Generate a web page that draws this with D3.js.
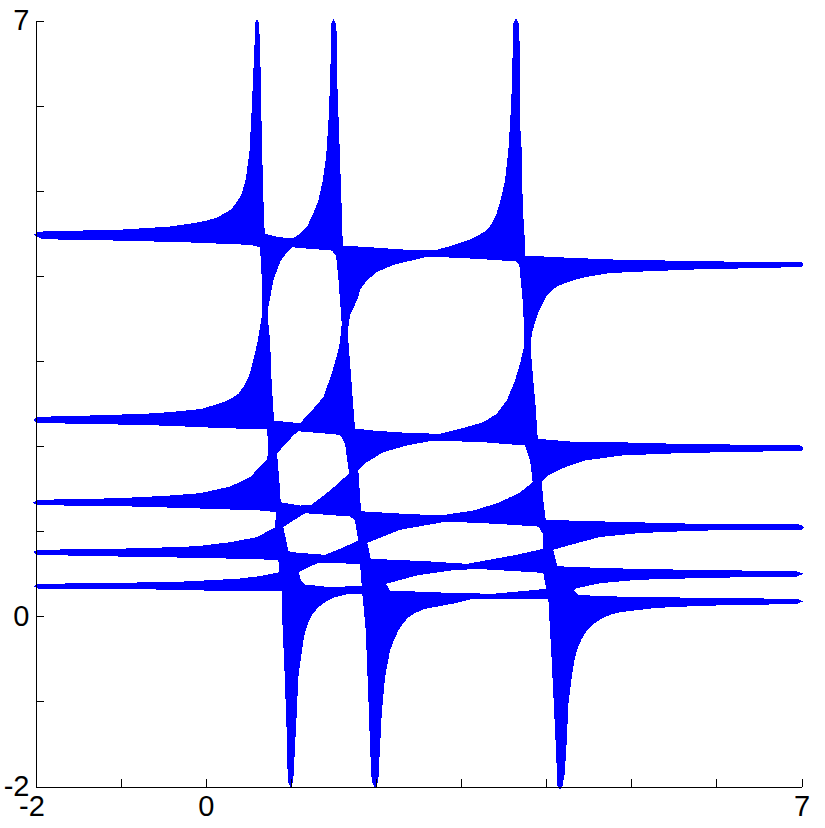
<!DOCTYPE html>
<html>
<head>
<meta charset="utf-8">
<script src="https://cdnjs.cloudflare.com/ajax/libs/d3/7.8.5/d3.min.js"></script>
<style>html,body{margin:0;padding:0;background:#fff}svg{display:block}</style>
</head>
<body>
<div id="chart"></div>
<script>
const tickValues = [-2,-1,0,1,2,3,4,5,6,7];
const labelledTicks = [-2,0,7];

// Outer silhouette of the blue region, in data units
const outline = [[-2.024,4.480],[-1.982,4.509],[-1.912,4.521],[-0.972,4.544],[-0.419,4.579],[-0.102,4.626],[0.015,4.650],[0.133,4.685],[0.247,4.748],[0.309,4.791],[0.364,4.865],[0.415,4.944],[0.450,5.061],[0.474,5.155],[0.515,5.472],[0.538,5.907],[0.562,6.448],[0.579,6.847],[0.585,6.977],[0.603,7.018],[0.625,6.977],[0.632,6.847],[0.644,6.448],[0.658,5.672],[0.677,4.920],[0.693,4.497],
[0.853,4.454],[1.029,4.442],[1.108,4.497],[1.187,4.571],[1.264,4.732],[1.323,4.885],[1.375,5.120],[1.414,5.394],[1.441,5.790],[1.461,6.260],[1.472,6.730],[1.477,6.965],[1.499,7.024],[1.531,6.965],[1.546,6.730],[1.546,6.260],[1.563,5.790],[1.578,5.390],[1.590,5.002],[1.602,4.685],[1.610,4.356],
[1.931,4.336],[2.318,4.309],[2.526,4.306],[2.714,4.306],[2.871,4.348],[3.106,4.427],[3.262,4.509],[3.317,4.556],[3.361,4.615],[3.417,4.732],[3.458,4.865],[3.517,5.120],[3.556,5.472],[3.576,5.790],[3.595,6.177],[3.607,6.647],[3.614,6.965],[3.646,7.024],[3.678,6.965],[3.693,6.612],[3.693,5.790],[3.713,5.472],[3.725,4.803],[3.752,4.380],
[3.752,4.239],[4.124,4.219],[4.770,4.192],[5.828,4.172],[6.669,4.160],[7.003,4.160],[7.026,4.136],[7.003,4.109],[6.669,4.094],[5.828,4.078],[5.201,4.054],[4.731,4.031],[4.457,3.984],[4.328,3.951],[4.222,3.913],[4.134,3.880],[4.065,3.827],[4.010,3.769],[3.967,3.690],[3.922,3.604],[3.889,3.514],[3.830,3.319],[3.819,3.122],[3.849,2.770],[3.877,2.456],[3.901,2.085],
[4.281,2.053],[5.005,2.041],[5.553,2.026],[6.493,2.014],[7.003,2.006],[7.026,1.975],[7.003,1.944],[6.102,1.928],[5.553,1.916],[4.888,1.889],[4.457,1.830],[4.222,1.751],[4.026,1.654],[3.948,1.587],[3.967,1.360],[3.995,1.133],
[4.712,1.113],[5.788,1.086],[7.003,1.078],[7.026,1.046],[7.003,1.016],[5.808,1.007],[5.103,0.978],[4.633,0.931],[4.398,0.870],[4.084,0.781],[4.131,0.588],
[4.613,0.569],[5.064,0.557],[5.691,0.546],[6.944,0.529],[7.022,0.499],[6.944,0.467],[5.926,0.452],[5.064,0.428],[4.633,0.388],[4.359,0.330],[4.331,0.302],[4.378,0.252],
[4.672,0.235],[5.299,0.224],[6.239,0.212],[6.944,0.205],[7.022,0.177],[6.944,0.142],[6.239,0.134],[5.729,0.118],[5.299,0.099],[4.868,0.048],[4.762,0.020],[4.672,-0.018],[4.586,-0.068],[4.516,-0.129],[4.463,-0.191],[4.418,-0.265],[4.375,-0.367],[4.339,-0.481],[4.300,-0.716],[4.261,-1.029],[4.242,-1.460],[4.218,-1.851],[4.190,-2.001],[4.163,-2.032],[4.131,-1.989],[4.116,-1.578],[4.084,-0.911],[4.057,-0.364],[4.034,0.032],[4.026,0.205],
[3.141,0.205],[2.929,0.153],[2.577,0.087],[2.471,0.044],[2.381,-0.011],[2.318,-0.085],[2.263,-0.168],[2.210,-0.285],[2.166,-0.403],[2.107,-0.716],[2.068,-1.146],[2.048,-1.539],[2.028,-1.930],[1.989,-2.028],[1.950,-1.930],[1.931,-1.539],[1.911,-0.951],[1.880,-0.168],[1.848,0.185],[1.840,0.264],
[1.676,0.264],[1.519,0.224],[1.414,0.173],[1.323,0.106],[1.255,0.026],[1.206,-0.070],[1.173,-0.168],[1.147,-0.285],[1.088,-0.716],[1.069,-1.146],[1.049,-1.539],[1.029,-1.930],[0.999,-2.028],[0.964,-1.930],[0.952,-1.378],[0.924,-0.599],[0.900,-0.050],[0.893,0.302],
[0.364,0.294],[-0.384,0.311],[-1.030,0.322],[-1.967,0.322],[-2.026,0.353],[-1.967,0.381],[-1.030,0.393],[-0.322,0.405],[0.364,0.440],[0.638,0.471],[0.865,0.518],[0.853,0.663],
[0.364,0.675],[-0.047,0.687],[-0.616,0.694],[-1.614,0.714],[-1.986,0.725],[-2.026,0.753],[-1.986,0.781],[-1.105,0.792],[-0.616,0.804],[-0.106,0.823],[0.286,0.870],[0.599,0.929],[0.814,1.046],[0.826,1.223],
[0.658,1.242],[0.070,1.262],[-0.811,1.289],[-1.614,1.301],[-1.986,1.305],[-2.026,1.336],[-1.986,1.368],[-1.027,1.387],[-0.478,1.415],[-0.067,1.446],[0.286,1.524],[0.521,1.634],[0.724,1.850],[0.736,2.026],[0.717,2.202],
[0.482,2.202],[-0.067,2.221],[-0.419,2.238],[-0.851,2.250],[-1.497,2.261],[-1.986,2.273],[-2.026,2.308],[-1.986,2.343],[-1.359,2.359],[-0.713,2.379],[-0.381,2.402],[-0.047,2.437],[0.207,2.515],[0.297,2.558],[0.383,2.614],[0.450,2.705],[0.501,2.809],[0.538,2.923],[0.568,3.044],[0.611,3.240],[0.665,3.557],[0.658,3.984],[0.638,4.336],
[0.521,4.364],[-0.267,4.395],[-1.089,4.415],[-1.912,4.430]];

// Enclosed white cells, two columns by four rows
const holeCol1Row1 = [[1.022,4.336],[0.952,4.278],[0.873,4.160],[0.794,3.945],[0.736,3.631],[0.728,3.514],[0.756,3.240],[0.775,2.735],[0.803,2.300],[1.108,2.268],[1.264,2.437],[1.382,2.574],[1.480,2.849],[1.558,3.122],[1.578,3.240],[1.598,3.440],[1.578,3.710],[1.558,3.984],[1.531,4.239],[1.480,4.297],[1.147,4.324]];
const holeCol2Row1 = [[1.813,3.836],[1.892,3.945],[2.009,4.043],[2.204,4.129],[2.616,4.227],[3.184,4.200],[3.654,4.168],[3.685,4.121],[3.732,3.631],[3.740,3.161],[3.693,2.970],[3.634,2.770],[3.537,2.535],[3.419,2.379],[3.262,2.280],[2.988,2.202],[2.753,2.144],[2.362,2.155],[1.969,2.182],[1.754,2.206],[1.676,3.240],[1.676,3.396],[1.696,3.534],[1.793,3.749]];
const holeCol1Row2 = [[1.088,2.174],[1.578,2.132],[1.637,2.026],[1.672,1.771],[1.684,1.677],[1.461,1.477],[1.245,1.313],[1.108,1.301],[0.881,1.340],[0.865,1.595],[0.838,1.912],[0.932,2.018],[1.029,2.124]];
const holeCol2Row2 = [[2.674,2.065],[3.262,2.045],[3.752,2.006],[3.811,1.830],[3.842,1.575],[3.693,1.457],[3.458,1.340],[3.144,1.242],[2.753,1.184],[2.204,1.211],[1.825,1.234],[1.793,1.712],[1.892,1.810],[2.087,1.928],[2.362,2.006]];
const holeCol1Row3 = [[1.167,1.211],[1.696,1.172],[1.754,1.125],[1.793,0.890],[1.578,0.792],[1.402,0.722],[1.010,0.753],[0.971,0.772],[0.912,1.046],[1.029,1.125]];
const holeCol2Row3 = [[2.832,1.113],[3.419,1.086],[3.908,1.054],[3.960,0.969],[3.960,0.792],[3.654,0.722],[3.067,0.616],[2.597,0.647],[1.939,0.675],[1.899,0.863],[2.283,1.016]];
const holeCol1Row4 = [[1.323,0.628],[1.813,0.616],[1.833,0.361],[1.480,0.341],[1.167,0.373],[1.108,0.440],[1.096,0.518],[1.206,0.576]];
const holeCol2Row4 = [[3.184,0.557],[3.967,0.510],[3.999,0.322],[3.379,0.264],[2.871,0.275],[2.166,0.302],[2.119,0.381],[2.479,0.479],[2.871,0.537]];

const holes = [holeCol1Row1,holeCol2Row1,holeCol1Row2,holeCol2Row2,holeCol1Row3,holeCol2Row3,holeCol1Row4,holeCol2Row4];

const width = 825, height = 828;
const x = d3.scaleLinear().domain([-2,7]).range([35.5,801.5]);
const y = d3.scaleLinear().domain([-2,7]).range([786.5,20.5]);

const svg = d3.select('#chart').append('svg').attr('width',width).attr('height',height);

const line = d3.line().x(d=>x(d[0])).y(d=>y(d[1])).curve(d3.curveLinearClosed);
svg.append('path')
  .attr('d',[outline,...holes].map(r=>line(r)).join(''))
  .attr('fill','#0000ff')
  .attr('fill-rule','evenodd')
  .attr('shape-rendering','crispEdges');

const fmt = d => labelledTicks.includes(d) ? String(d) : '';
const gx = svg.append('g').attr('transform',`translate(0,${y(-2)})`)
  .call(d3.axisBottom(x).tickValues(tickValues).tickFormat(fmt).tickSizeInner(-8).tickSizeOuter(0).tickPadding(9));
const gy = svg.append('g').attr('transform',`translate(${x(-2)},0)`)
  .call(d3.axisLeft(y).tickValues(tickValues).tickFormat(fmt).tickSizeInner(-8).tickSizeOuter(0).tickPadding(6));
svg.selectAll('g').attr('font-family','"Liberation Sans",Arial,sans-serif').attr('font-size',29);
svg.selectAll('g path, g line').attr('stroke','#000').attr('stroke-width',1).attr('shape-rendering','crispEdges');
svg.selectAll('g text').attr('fill','#000');
gx.selectAll('.tick text').filter(d=>d===-2).attr('dx',-4);
</script>
</body>
</html>
